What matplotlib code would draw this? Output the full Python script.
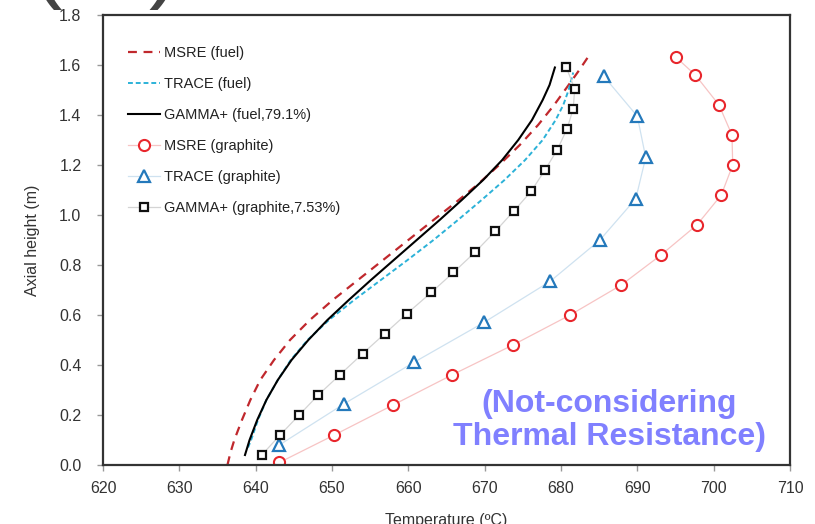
import numpy as np
import matplotlib
matplotlib.use("Agg")
import matplotlib.pyplot as plt

plt.rcParams['font.family'] = ['Liberation Sans', 'DejaVu Sans']

# fuel temperature profiles (T in degC, h in m)
msre_fuel_h = [0.00, 0.05, 0.10, 0.18, 0.26, 0.34, 0.42, 0.50, 0.58, 0.66, 0.74, 0.82,
               0.90, 0.98, 1.05, 1.12, 1.20, 1.28, 1.36, 1.44, 1.52, 1.58, 1.63]
msre_fuel_T = [636.3, 636.7, 637.2, 638.2, 639.3, 640.6, 642.4, 644.5, 647.1, 650.1, 653.4, 656.7,
               660.0, 663.3, 666.2, 669.0, 671.9, 674.6, 677.0, 679.1, 681.0, 682.4, 683.5]

trace_fuel_h = [0.07, 0.10, 0.18, 0.26, 0.34, 0.42, 0.50, 0.58, 0.66, 0.74, 0.82, 0.90,
                0.98, 1.06, 1.14, 1.22, 1.30, 1.38, 1.44, 1.50, 1.57]
trace_fuel_T = [639.0, 639.4, 640.3, 641.4, 642.9, 644.6, 646.8, 649.6, 652.9, 656.4, 659.9, 663.3,
                666.5, 669.6, 672.6, 675.3, 677.6, 679.3, 680.3, 681.0, 681.6]

gamma_fuel_h = [0.04, 0.10, 0.18, 0.26, 0.34, 0.42, 0.50, 0.58, 0.66, 0.74, 0.82, 0.90,
                0.98, 1.06, 1.14, 1.22, 1.30, 1.38, 1.46, 1.52, 1.59]
gamma_fuel_T = [638.6, 639.2, 640.2, 641.4, 642.9, 644.7, 646.9, 649.4, 652.2, 655.1, 658.1, 661.1,
                664.1, 667.0, 669.8, 672.3, 674.4, 676.2, 677.6, 678.5, 679.2]

# graphite temperature profiles
msre_gr_h = [0.01, 0.12, 0.24, 0.36, 0.48, 0.60, 0.72, 0.84, 0.96, 1.08, 1.20, 1.32, 1.44, 1.56, 1.63]
msre_gr_T = [643.1, 650.3, 658.0, 665.7, 673.7, 681.2, 687.9, 693.1, 697.8, 701.0, 702.5, 702.4,
             700.7, 697.6, 695.1]

trace_gr_h = [0.08, 0.245, 0.41, 0.57, 0.735, 0.90, 1.065, 1.23, 1.395, 1.555]
trace_gr_T = [643.1, 651.6, 660.7, 669.9, 678.6, 685.1, 689.8, 691.1, 690.0, 685.6]

gamma_gr_h = [0.04, 0.12, 0.20, 0.28, 0.36, 0.445, 0.525, 0.605, 0.69, 0.77, 0.85, 0.935,
              1.015, 1.095, 1.18, 1.26, 1.345, 1.425, 1.505, 1.59]
gamma_gr_T = [640.8, 643.2, 645.7, 648.2, 651.0, 654.0, 656.9, 659.8, 663.0, 665.9, 668.7, 671.4,
              673.8, 676.1, 677.9, 679.5, 680.8, 681.6, 681.8, 680.7]

fig = plt.figure(figsize=(8.15, 5.24), dpi=100)
ax = fig.add_axes([0.1264, 0.1126, 0.8429, 0.8588])

ax.plot(msre_fuel_T, msre_fuel_h, color='#c0282d', lw=1.6, dashes=(4, 3), label='MSRE (fuel)')
ax.plot(trace_fuel_T, trace_fuel_h, color='#2cb2d8', lw=1.4, dashes=(2.5, 1.5), label='TRACE (fuel)')
ax.plot(gamma_fuel_T, gamma_fuel_h, color='black', lw=1.5, label='GAMMA+ (fuel,79.1%)')

ax.plot(msre_gr_T, msre_gr_h, color='#f7c4c4', lw=0.9, marker='o', ms=8, mfc='white',
        mec='#e8262c', mew=1.5, label='MSRE (graphite)')
ax.plot(trace_gr_T, trace_gr_h, color='#cfe2f0', lw=0.9, marker='^', ms=8, mfc='white',
        mec='#2479bb', mew=1.6, label='TRACE (graphite)')
ax.plot(gamma_gr_T, gamma_gr_h, color='#d4d4d4', lw=0.9, marker='s', ms=5.5, mfc='white',
        mec='#111111', mew=1.6, label='GAMMA+ (graphite,7.53%)')

ax.set_xlim(620, 710)
ax.set_ylim(0, 1.8)
ax.set_xticks(np.arange(620, 711, 10))
ax.set_yticks(np.arange(0, 1.81, 0.2))
ax.set_yticklabels([f'{v:.1f}' for v in np.arange(0, 1.81, 0.2)])
ax.tick_params(axis='both', labelsize=11.5, colors='#999999', labelcolor='#333333', length=4.5, width=1)
ax.tick_params(axis='y', pad=11)
ax.tick_params(axis='x', pad=7)
for s in ax.spines.values():
    s.set_color('#333333')
    s.set_linewidth(1.6)

ax.set_xlabel('Temperature (\u00baC)', fontsize=11.5, color='#333333', labelpad=12)
ax.set_ylabel('Axial height (m)', fontsize=11.5, color='#333333', labelpad=14)

ax.legend(loc='upper left', bbox_to_anchor=(0.026, 0.948), frameon=False, fontsize=10.5,
          borderpad=0, labelspacing=1.17, handlelength=2.2, handletextpad=0.25, numpoints=1,
          labelcolor='#222222')

ax.text(686.3, 0.178, '(Not-considering\nThermal Resistance)', color='#8080ff', fontsize=23,
        fontweight='bold', ha='center', va='center', linespacing=1.12)

# panel label, mostly cut off at the top
fig.text(30 / 815, 1 + 10 / 524, '(', fontsize=68, color='#444444',
         ha='left', va='baseline')
fig.text(180 / 815, 1 + 10 / 524, ')', fontsize=68, color='#444444',
         ha='right', va='baseline')

fig.savefig('out.png', dpi=100)
